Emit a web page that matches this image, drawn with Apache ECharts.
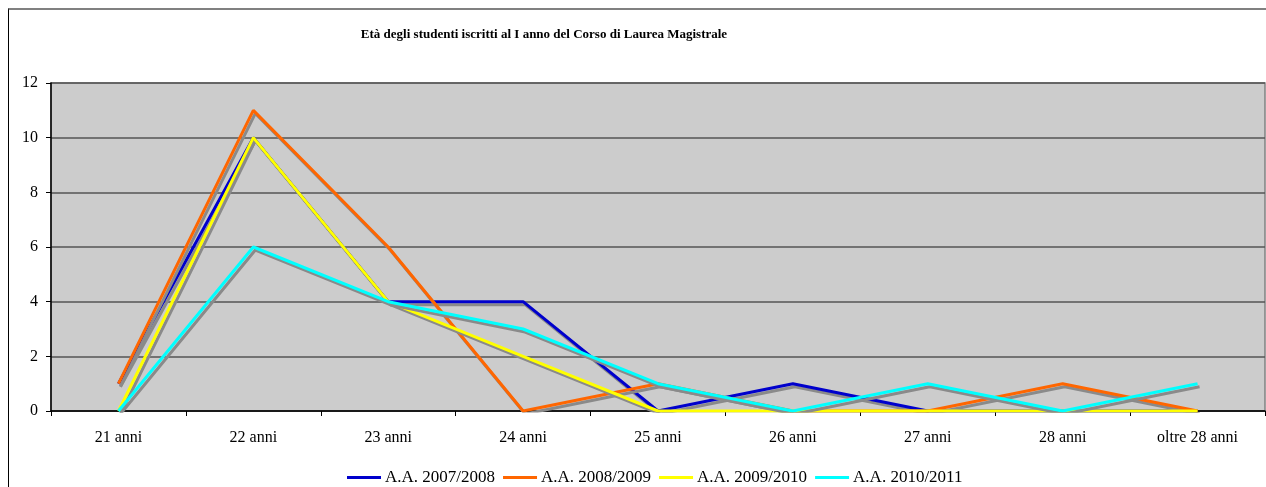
<!DOCTYPE html>
<html>
<head>
<meta charset="utf-8">
<script src="https://cdn.jsdelivr.net/npm/echarts@6/dist/echarts.min.js"></script>
<style>
  html, body { margin: 0; padding: 0; background: #fff; overflow: hidden; }
  #frame { position: absolute; left: 8px; top: 8px; width: 1400px; height: 600px;
           border-left: 1.5px solid #000; border-top: 2px solid #808080; }
  #chart { position: absolute; left: 0; top: 0; width: 1266px; height: 487px; }
</style>
</head>
<body>
<div id="frame"></div>
<div id="chart"></div>
<script>
const categories = ['21 anni', '22 anni', '23 anni', '24 anni', '25 anni', '26 anni', '27 anni', '28 anni', 'oltre 28 anni']
const seriesNames = ['A.A. 2007/2008', 'A.A. 2008/2009', 'A.A. 2009/2010', 'A.A. 2010/2011']
const aa0708 = [1, 10, 4, 4, 0, 1, 0, 0, 0]
const aa0809 = [1, 11, 6, 0, 1, 0, 0, 1, 0]
const aa0910 = [0, 10, 4, 2, 0, 0, 0, 0, 0]
const aa1011 = [0, 6, 4, 3, 1, 0, 1, 0, 1]
const colors = ['#0000cc', '#ff6600', '#ffff00', '#00ffff']
const values = [aa0708, aa0809, aa0910, aa1011]

const font = 'Liberation Serif, Times New Roman, serif'

const chart = echarts.init(document.getElementById('chart'), undefined, { renderer: 'canvas' })

chart.setOption({
  animation: false,
  backgroundColor: 'transparent',
  title: {
    text: 'Età degli studenti iscritti al I anno del Corso di Laurea Magistrale',
    left: 539,
    top: 23,
    textAlign: 'center',
    textStyle: { fontFamily: font, fontSize: 13, fontWeight: 'bold', color: '#000' }
  },
  legend: {
    left: 342,
    top: 464,
    itemWidth: 34,
    itemHeight: 3,
    itemGap: 8,
    icon: 'rect',
    textStyle: { fontFamily: font, fontSize: 17, color: '#000', padding: [0, 0, 0, -1] },
    data: seriesNames
  },
  grid: { left: 51, right: 1, top: 83, bottom: 76, show: true, backgroundColor: '#cccccc', borderColor: '#808080', borderWidth: 1.5 },
  xAxis: {
    type: 'category',
    data: categories,
    boundaryGap: true,
    axisLine: { lineStyle: { color: '#000', width: 1.5 } },
    axisTick: { show: true, length: 5, lineStyle: { color: '#000' } },
    axisLabel: { fontFamily: font, fontSize: 16, color: '#000', margin: 19 }
  },
  yAxis: {
    type: 'value',
    min: 0,
    max: 12,
    interval: 2,
    axisLine: { show: true, lineStyle: { color: '#000', width: 1.5 } },
    axisTick: { show: true, length: 5, lineStyle: { color: '#000' } },
    axisLabel: { fontFamily: font, fontSize: 16, color: '#000', margin: 13 },
    splitLine: { lineStyle: { color: '#555', width: 1.5 } }
  },
  series: seriesNames.map((name, i) => ({
    name,
    type: 'line',
    data: values[i],
    showSymbol: false,
    symbol: 'none',
    color: colors[i],
    lineStyle: {
      width: 3,
      color: colors[i],
      shadowColor: '#8a8a8a',
      shadowOffsetX: 2,
      shadowOffsetY: 3,
      shadowBlur: 0
    }
  }))
})
</script>
</body>
</html>
